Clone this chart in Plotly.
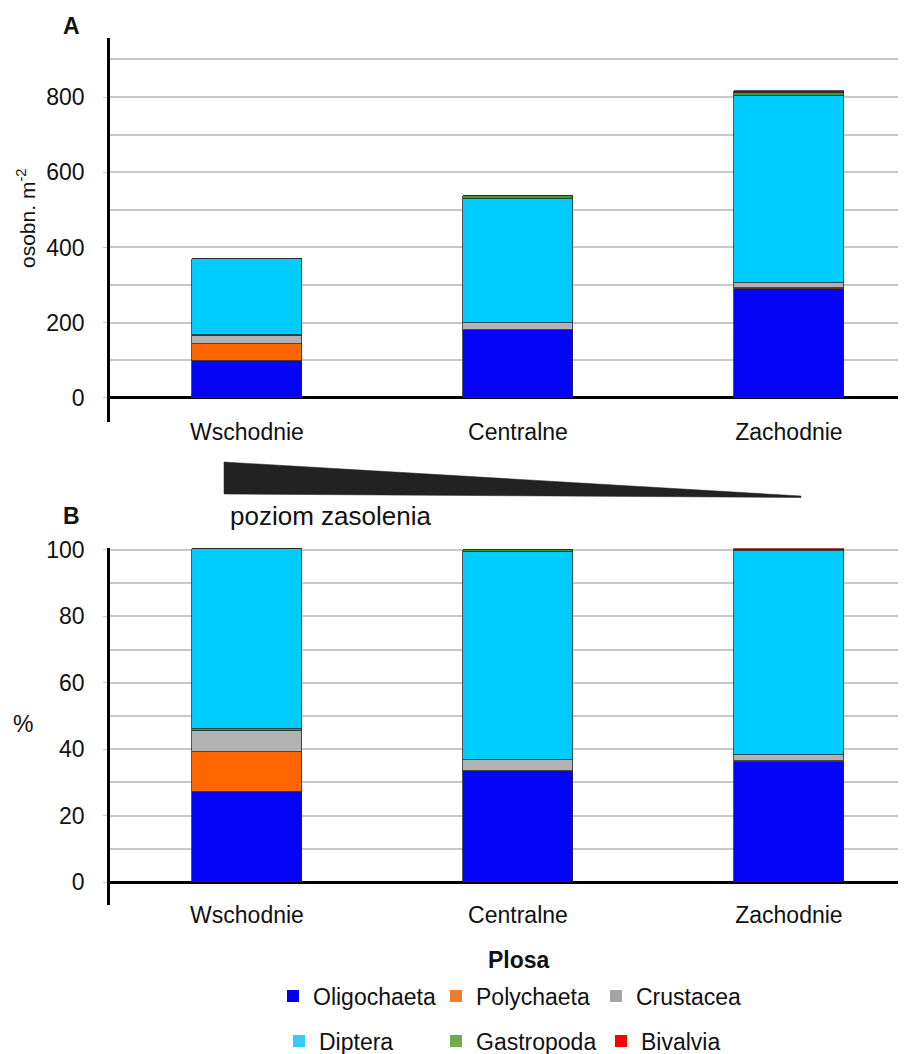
import plotly.graph_objects as go

# page body adds an 8px margin; figure is sized so that it fits the 906x1054 window
OFF = 8
W, H = 906 - OFF, 1054 - OFF

# ---------------- data ----------------
categories = ["Wschodnie", "Centralne", "Zachodnie"]

# Panel A: density (osobn. m-2)
oligochaeta_A = [98, 181, 290]
polychaeta_A = [45, 0, 3]
crustacea_A = [22, 18, 13]
gastropoda_low_A = [3, 0, 0]      # band drawn below Diptera
diptera_A = [202, 330, 498]
gastropoda_high_A = [0, 8, 7]     # band drawn above Diptera
bivalvia_A = [0, 0, 6]

# Panel B: percentage share
oligochaeta_B = [27.1, 33.5, 36.0]
polychaeta_B = [11.9, 0, 0.4]
crustacea_B = [6.5, 3.3, 1.9]
gastropoda_low_B = [0.6, 0, 0]
diptera_B = [54.2, 62.4, 61.2]
gastropoda_high_B = [0, 0.7, 0.5]
bivalvia_B = [0, 0, 0.5]

ticks_A = [0, 200, 400, 600, 800]
ticks_B = [0, 20, 40, 60, 80, 100]

legend_names = ["Oligochaeta", "Polychaeta", "Crustacea", "Diptera", "Gastropoda", "Bivalvia"]
legend_colors = ["#0000EE", "#ED7D31", "#A5A5A5", "#33CCFF", "#70AD47", "#FF0000"]

# ---------------- style ----------------
bar_colors = {
    "Oligochaeta": "#0505F5",
    "Polychaeta": "#FF6600",
    "Crustacea": "#B2B2B2",
    "Diptera": "#00CCFF",
    "Gastropoda": "#3A9A3A",
    "Bivalvia": "#7A1515",
}
FONT = "Liberation Sans, Arial, sans-serif"
GRID = "#C8C8C8"


def px(x):
    return (x - OFF) / W


def py(y):
    return 1 - (y - OFF) / H


fig = go.Figure()

series_A = [
    ("Oligochaeta", oligochaeta_A), ("Polychaeta", polychaeta_A), ("Crustacea", crustacea_A),
    ("Gastropoda", gastropoda_low_A), ("Diptera", diptera_A), ("Gastropoda", gastropoda_high_A),
    ("Bivalvia", bivalvia_A),
]
series_B = [
    ("Oligochaeta", oligochaeta_B), ("Polychaeta", polychaeta_B), ("Crustacea", crustacea_B),
    ("Gastropoda", gastropoda_low_B), ("Diptera", diptera_B), ("Gastropoda", gastropoda_high_B),
    ("Bivalvia", bivalvia_B),
]

for name, vals in series_A:
    fig.add_trace(go.Bar(x=categories, y=vals, name=name, xaxis="x", yaxis="y",
                         marker=dict(color=bar_colors[name], line=dict(color="#2a2a2a", width=0.8)),
                         width=0.406, showlegend=False))
for name, vals in series_B:
    fig.add_trace(go.Bar(x=categories, y=vals, name=name, xaxis="x2", yaxis="y2",
                         marker=dict(color=bar_colors[name], line=dict(color="#2a2a2a", width=0.8)),
                         width=0.406, showlegend=False))

# legend entries (one legend per entry for exact placement)
text_starts = [(311, 996), (474, 996), (634, 996), (317, 1041), (474, 1041), (639, 1041)]
legend_layout = {}
for i, (name, col) in enumerate(zip(legend_names, legend_colors)):
    key = "legend" if i == 0 else f"legend{i+1}"
    fig.add_trace(go.Scatter(x=[None], y=[None], mode="markers", name=name,
                             marker=dict(symbol="square", size=12, color=col),
                             legend=key, xaxis="x2", yaxis="y2"))
    tx, ty = text_starts[i]
    legend_layout[key] = dict(
        x=px(tx - 38), y=py(ty), xanchor="left", yanchor="middle",
        bgcolor="rgba(0,0,0,0)", borderwidth=0, itemwidth=30,
        font=dict(family=FONT, size=23, color="#111"),
    )

xr = [-0.5055, 2.432]
common_x = dict(range=xr, showline=False, ticks="", showgrid=False, zeroline=False, automargin=False,
                tickfont=dict(family=FONT, size=23, color="#111"), ticklabelstandoff=0)

yfont = dict(family=FONT, size=23, color="#111")

fig.update_layout(
    template="none",
    width=W, height=H,
    margin=dict(l=0, r=0, t=0, b=0, autoexpand=False),
    paper_bgcolor="white", plot_bgcolor="white",
    barmode="stack", bargap=0,
    font=dict(family=FONT, color="#111"),
    xaxis=dict(domain=[px(110), 1.0], anchor="free", position=py(416), **common_x),
    yaxis=dict(domain=[py(422), py(38)], anchor="x", range=[-64, 957], automargin=False,
               tickvals=ticks_A, showgrid=True, gridcolor=GRID, gridwidth=1.5,
               minor=dict(dtick=100, tick0=0, showgrid=True, gridcolor=GRID, gridwidth=1.5),
               zeroline=True, zerolinecolor="#000", zerolinewidth=2.5,
               showline=True, linecolor="#000", linewidth=2.5,
               ticks="outside", ticklen=4, tickcolor=GRID, ticklabelstandoff=14,
               tickfont=yfont),
    xaxis2=dict(domain=[px(110), 1.0], anchor="free", position=py(899), **common_x),
    yaxis2=dict(domain=[py(905), py(548.3)], anchor="x2", range=[-6.9, 100.5], automargin=False,
                tickvals=ticks_B, showgrid=True, gridcolor=GRID, gridwidth=1.5,
                minor=dict(dtick=10, tick0=0, showgrid=True, gridcolor=GRID, gridwidth=1.5),
                zeroline=True, zerolinecolor="#000", zerolinewidth=2.5,
                showline=True, linecolor="#000", linewidth=2.5,
                ticks="outside", ticklen=4, tickcolor=GRID, ticklabelstandoff=14,
                tickfont=yfont),
    **legend_layout,
)

# salinity wedge
fig.add_shape(type="path", xref="paper", yref="paper",
              path=f"M {px(224)},{py(462)} L {px(801)},{py(496)} L {px(801)},{py(497.5)} L {px(224)},{py(494)} Z",
              fillcolor="#222222", line=dict(color="#222222", width=0.5))

ann = [
    dict(text="<b>A</b>", x=px(61), y=py(26), xanchor="left", yanchor="middle", font=dict(size=23)),
    dict(text="<b>B</b>", x=px(61), y=py(516), xanchor="left", yanchor="middle", font=dict(size=23)),
    dict(text="poziom zasolenia", x=px(228), y=py(516), xanchor="left", yanchor="middle", font=dict(size=26)),
    dict(text="osobn. m<sup>-2</sup>", x=px(26), y=py(219), xanchor="center", yanchor="middle",
         textangle=-90, font=dict(size=21)),
    dict(text="%", x=px(23), y=py(724), xanchor="center", yanchor="middle", font=dict(size=23)),
    dict(text="<b>Plosa</b>", x=px(519), y=py(960), xanchor="center", yanchor="middle", font=dict(size=23)),
]
for a in ann:
    a.update(xref="paper", yref="paper", showarrow=False)
    a["font"].update(family=FONT, color="#111")
    fig.add_annotation(**a)

fig.write_html("out.html")
